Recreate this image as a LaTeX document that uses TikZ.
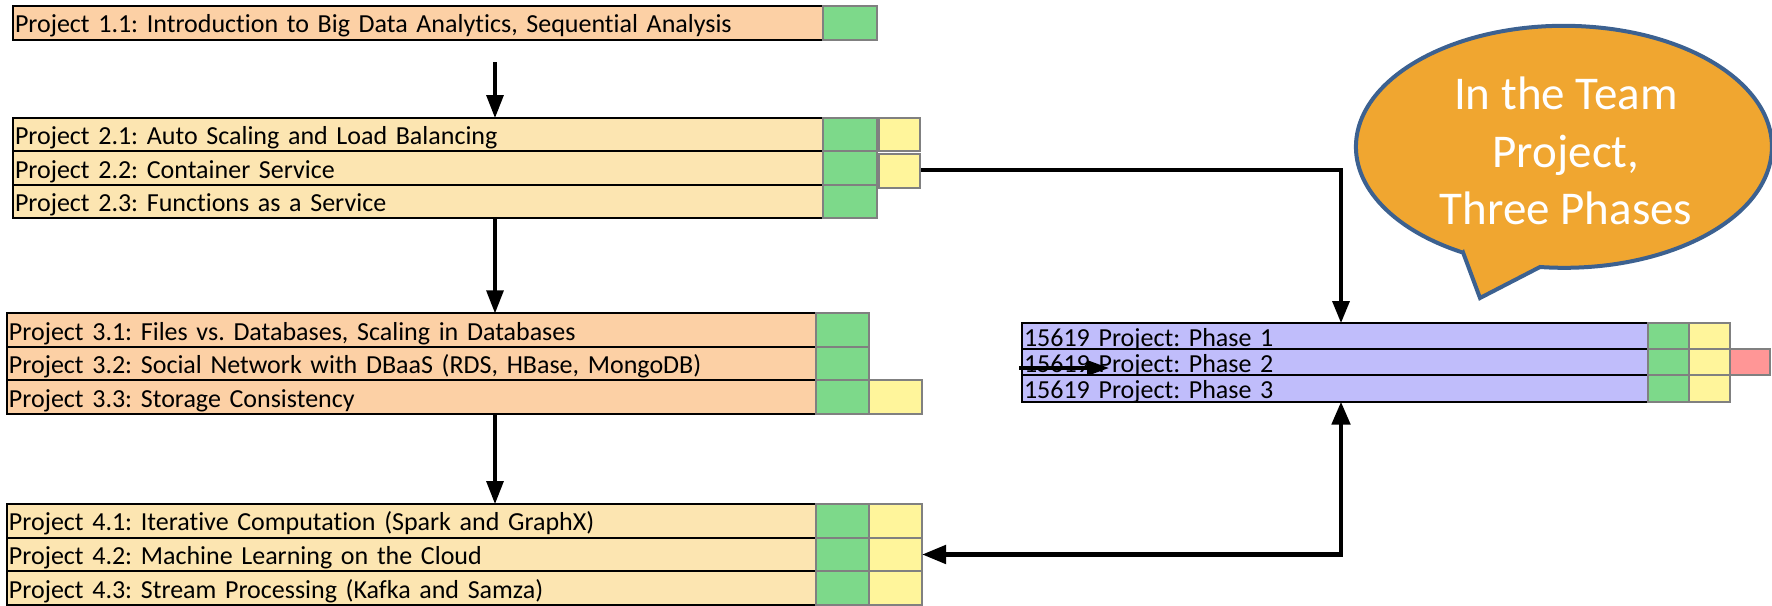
\documentclass[tikz,border=0pt]{standalone}
\usepackage{fontspec}
\setmainfont{Carlito}[Ligatures=NoCommon]
\usetikzlibrary{arrows.meta,backgrounds}
\frenchspacing

\definecolor{peach}{HTML}{FCD0A5}
\definecolor{sand}{HTML}{FCE5B1}
\definecolor{lavender}{HTML}{C0BDFB}
\definecolor{cellgreen}{HTML}{7DD98A}
\definecolor{cellyellow}{HTML}{FFF59B}
\definecolor{cellred}{HTML}{FF9696}
\definecolor{cellgray}{HTML}{808080}
\definecolor{bubblefill}{HTML}{F0A630}
\definecolor{bubbleedge}{HTML}{3C6190}

\begin{document}
\begin{tikzpicture}[x=0.5pt,y=-0.5pt,
  rowbox/.style 2 args={rectangle, draw=black, line width=1pt, anchor=north west,
    outer sep=0pt, inner xsep=1pt, inner ysep=0pt, align=left,
    text width=#1, minimum height=#2, text height=11pt, text depth=1pt,
    font=\fontsize{13pt}{16pt}\selectfont},
  cell/.style 2 args={rectangle, draw=cellgray, line width=1pt, anchor=north west,
    outer sep=0pt, inner sep=0pt, minimum width=#1, minimum height=#2},
  flow/.style={line width=1.6pt, -{Triangle[length=11.5pt,width=8.5pt]}},
  link/.style={line width=1.7pt, -{Triangle[length=11pt,width=8.5pt]}},
  biglink/.style={line width=2.4pt,
    {Triangle[length=12pt,width=9pt]}-{Triangle[length=11.5pt,width=9pt]}},
  nudge/.style={line width=1.6pt, -{Triangle[length=11pt,width=7.5pt]}},
  bubble/.style={fill=bubblefill, draw=bubbleedge, line width=2pt},
  bubbletext/.style={text=white, align=center,
    font=\fontsize{23.5pt}{28.75pt}\selectfont}]

\useasboundingbox (0,0) rectangle (1772,605);

% ---- Project 1 ----
\node[rowbox={403pt}{17.15pt}, fill=peach] (r11) at (13,5.7)
  {Project 1.1: Introduction to Big Data Analytics, Sequential Analysis};
\node[cell={27pt}{17.15pt}, fill=cellgreen] (g11) at (r11.north east) {};

% ---- Project 2 ----
\node[rowbox={403pt}{16.67pt}, fill=sand] (r21) at (13,118)
  {Project 2.1: Auto Scaling and Load Balancing};
\node[rowbox={403pt}{16.67pt}, fill=sand] (r22) at (r21.south west)
  {Project 2.2: Container Service};
\node[rowbox={403pt}{16.67pt}, fill=sand] (r23) at (r22.south west)
  {Project 2.3: Functions as a Service};
\node[cell={27pt}{16.67pt}, fill=cellgreen] (g21) at (r21.north east) {};
\node[cell={27pt}{16.67pt}, fill=cellgreen] (g22) at (r22.north east) {};
\node[cell={27pt}{16.67pt}, fill=cellgreen] (g23) at (r23.north east) {};
\node[cell={20.5pt}{16.5pt}, fill=cellyellow] (y21) at (879,118) {};
\node[cell={20.5pt}{17pt}, fill=cellyellow] (y22) at (879,154) {};

% ---- Project 3 ----
\node[rowbox={402.5pt}{16.78pt}, fill=peach] (r31) at (7,313.3)
  {Project 3.1: Files vs. Databases, Scaling in Databases};
\node[rowbox={402.5pt}{16.78pt}, fill=peach] (r32) at (r31.south west)
  {Project 3.2: Social Network with DBaaS (RDS, HBase, MongoDB)};
\node[rowbox={402.5pt}{16.78pt}, fill=peach] (r33) at (r32.south west)
  {Project 3.3: Storage Consistency};
\node[cell={26.5pt}{16.78pt}, fill=cellgreen] (g31) at (r31.north east) {};
\node[cell={26.5pt}{16.78pt}, fill=cellgreen] (g32) at (r32.north east) {};
\node[cell={26.5pt}{16.78pt}, fill=cellgreen] (g33) at (r33.north east) {};
\node[cell={26.5pt}{16.78pt}, fill=cellyellow] (y33) at (g33.north east) {};

% ---- Project 4 ----
\node[rowbox={402.5pt}{16.83pt}, fill=sand] (r41) at (7,504)
  {Project 4.1: Iterative Computation (Spark and GraphX)};
\node[rowbox={402.5pt}{16.83pt}, fill=sand] (r42) at (r41.south west)
  {Project 4.2: Machine Learning on the Cloud};
\node[rowbox={402.5pt}{16.83pt}, fill=sand] (r43) at (r42.south west)
  {Project 4.3: Stream Processing (Kafka and Samza)};
\node[cell={26.5pt}{16.83pt}, fill=cellgreen] (g41) at (r41.north east) {};
\node[cell={26.5pt}{16.83pt}, fill=cellgreen] (g42) at (r42.north east) {};
\node[cell={26.5pt}{16.83pt}, fill=cellgreen] (g43) at (r43.north east) {};
\node[cell={26.5pt}{16.83pt}, fill=cellyellow] (y41) at (g41.north east) {};
\node[cell={26.5pt}{16.83pt}, fill=cellyellow] (y42) at (g42.north east) {};
\node[cell={26.5pt}{16.83pt}, fill=cellyellow] (y43) at (g43.north east) {};

% ---- Team project phases ----
\node[rowbox={311pt}{13.1pt}, fill=lavender] (p1) at (1022,323)
  {15619 Project: Phase 1};
\node[rowbox={311pt}{13.1pt}, fill=lavender] (p2) at (p1.south west)
  {15619 Project: Phase 2};
\node[rowbox={311pt}{13.1pt}, fill=lavender] (p3) at (p2.south west)
  {15619 Project: Phase 3};
\node[cell={20.5pt}{13.1pt}, fill=cellgreen] (gp1) at (p1.north east) {};
\node[cell={20.5pt}{13.1pt}, fill=cellgreen] (gp2) at (p2.north east) {};
\node[cell={20.5pt}{13.1pt}, fill=cellgreen] (gp3) at (p3.north east) {};
\node[cell={20.5pt}{13.1pt}, fill=cellyellow] (yp1) at (gp1.north east) {};
\node[cell={20.5pt}{13.1pt}, fill=cellyellow] (yp2) at (gp2.north east) {};
\node[cell={20.5pt}{13.1pt}, fill=cellyellow] (yp3) at (gp3.north east) {};
\node[cell={20pt}{13.1pt}, fill=cellred] (rp2) at (yp2.north east) {};

% ---- connectors ----
\coordinate (spine) at (495,62);
\coordinate (bus) at (1341,170);
\coordinate (s0) at (1019,368);
\coordinate (s1) at (1109,368);

\draw[flow] (spine) -- (spine |- r21.north);
\draw[flow] (r23.south -| spine) -- (r31.north -| spine);
\draw[flow] (r33.south -| spine) -- (r41.north -| spine);

\begin{scope}[on background layer]
  \draw[link] (g22.east |- bus) -- (bus) -- (bus |- p1.north);
\end{scope}

\draw[biglink] (y42.east) -- (y42.east -| bus) -- (bus |- p3.south);
\draw[nudge] (s0) -- (s1);

% ---- speech bubble ----
\draw[bubble] (1463.1,252.6) -- (1480,298) -- (1540,267)
  arc[start angle=96.6, end angle=-241, x radius=208, y radius=121] -- cycle;
\node[bubbletext] (bubble) at (1566,151) {In the Team\\Project,\\Three Phases};

\end{tikzpicture}
\end{document}
